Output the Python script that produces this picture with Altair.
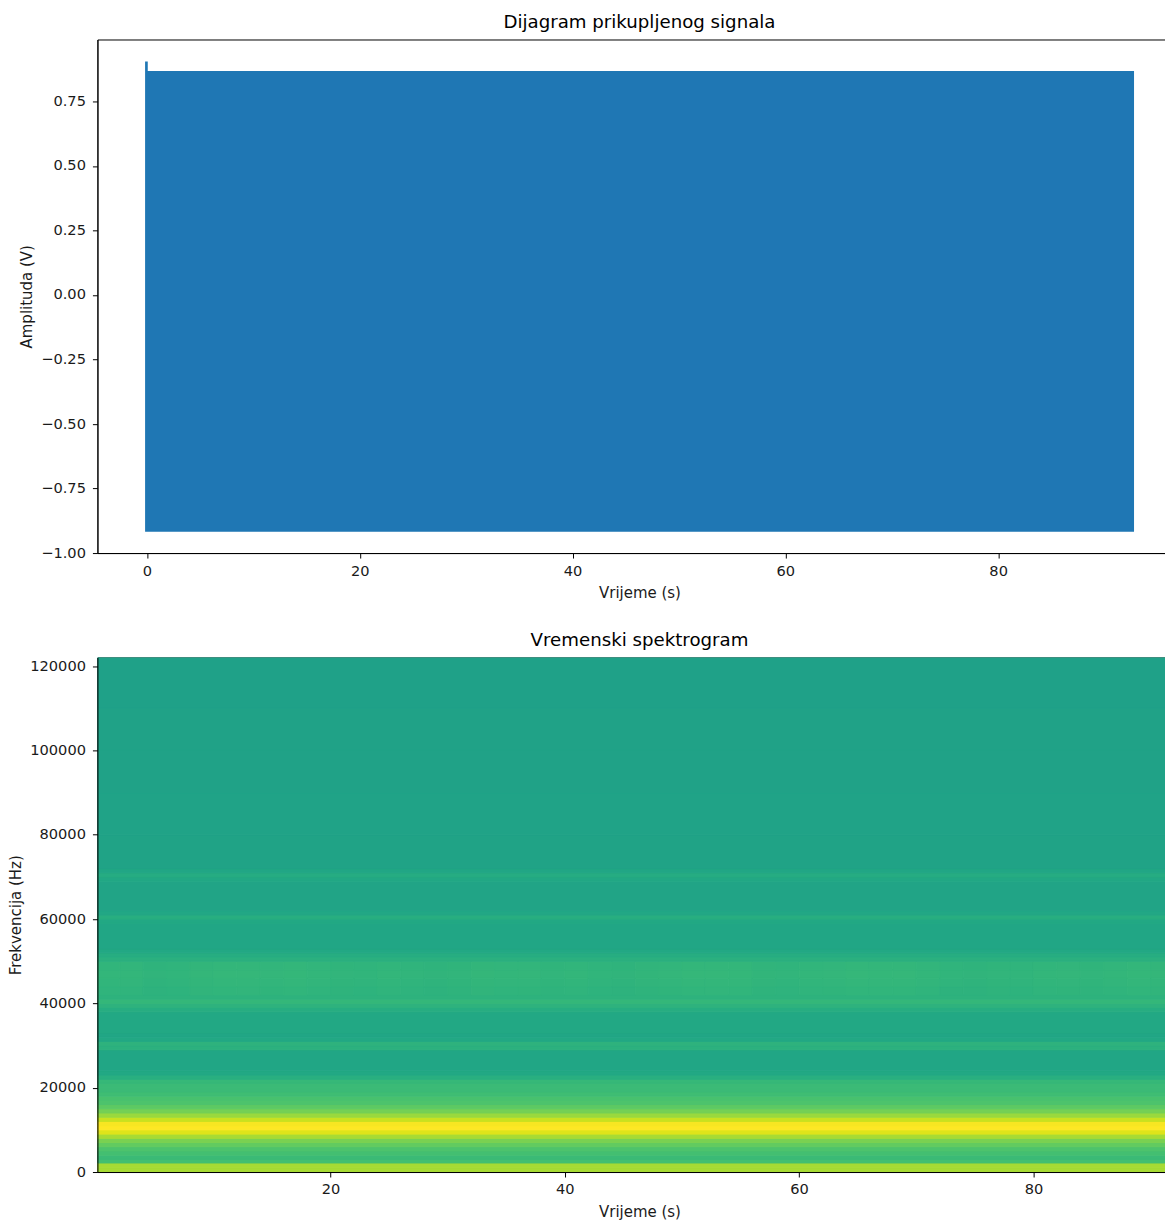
import altair as alt
import pandas as pd

# Signal envelope (s, V)
sig_t = [-0.17, 0.08, 0.08, 92.77]
sig_hi = [0.905, 0.905, 0.868, 0.868]
sig_lo = [-0.917, -0.917, -0.917, -0.917]

# Spectrogram rows: lower edge (Hz) and colour level per row
row_edges = [0, 1000, 2150, 3000, 4000, 5000, 6000, 7000, 8000, 9000, 10000, 11000, 12000, 13000, 14000, 15000,
             16000, 17000, 18000, 19000, 20000, 21000, 22000, 23000, 24000, 26000, 29000, 30000, 31000, 32000,
             33000, 38000, 39000, 40000, 41000, 42000, 44000, 46000, 48000, 50000, 51000, 52000, 53000, 59000,
             60000, 61000, 62000, 69000, 70000, 71000, 72000, 80000, 90000, 100000, 110000, 122070]
row_level = [.87, .87, .70, .68, .70, .72, .76, .80, .87, .95, 1.0, .99, .92, .85, .79, .75,
             .72, .71, .69, .68, .68, .67, .63, .60, .59, .59, .64, .645, .60, .59,
             .60, .62, .645, .665, .645, .65, .655, .66, .655, .635, .62, .60, .59, .60,
             .625, .595, .585, .60, .615, .59, .58, .578, .575, .575, .57]
row_band = [0]*35 + [1, 1, 1, 1] + [0]*16

# Time slices (s) and the faint brightness drift read along the 45 kHz band
time_edges = [0.1] + list(range(2, 92, 2)) + [92.64]
time_drift = [.000, .002, -.006, -.004, .004, .006, .007, .003, .005, .002, -.002, -.004, .001, -.003, -.006, -.002,
              .004, .002, .003, -.002, .001, -.004, -.006, -.001, .003, .006, .007, .005, -.001, -.003, .001, .003,
              .006, .005, .006, .002, -.005, -.006, -.002, -.004, .001, .003, -.002, .002, .005, .004]

y_ticks_top = [-1.0, -0.75, -0.5, -0.25, 0.0, 0.25, 0.5, 0.75]
x_ticks_top = [0, 20, 40, 60, 80]
x_ticks_bot = [20, 40, 60, 80]
y_ticks_bot = [0, 20000, 40000, 60000, 80000, 100000, 120000]

FONT = "DejaVu Sans"
axis_style = dict(grid=False, domainColor="black", tickColor="black", labelColor="#1a1a1a", titleColor="#1a1a1a",
                  labelFont=FONT, titleFont=FONT, labelFontSize=14.6, titleFontSize=15, titleFontWeight="normal",
                  tickSize=5, zindex=1)

signal = pd.DataFrame({"t": sig_t, "hi": sig_hi, "lo": sig_lo})
top = alt.Chart(signal, title=alt.Title("Dijagram prikupljenog signala", font=FONT, fontSize=18.2, fontWeight="normal",
                                        color="black", offset=7)).mark_area(color="#1f77b4", opacity=1).encode(
    x=alt.X("t:Q", scale=alt.Scale(domain=[-4.65, 97.23], nice=False, zero=False),
            axis=alt.Axis(values=x_ticks_top, title="Vrijeme (s)", titlePadding=7.6, labelPadding=5, **axis_style)),
    y=alt.Y("hi:Q", scale=alt.Scale(domain=[-1.0, 0.99], nice=False, zero=False),
            axis=alt.Axis(values=y_ticks_top, title="Amplituda (V)", titlePadding=6.5, labelPadding=7,
                          labelExpr="replace(format(datum.value,'.2f'),'-','\u2212')", **axis_style)),
    y2="lo:Q",
).properties(width=1085, height=514)

cells = []
for r in range(len(row_level)):
    if row_band[r]:
        for c in range(len(time_drift)):
            cells.append({"t0": time_edges[c], "t1": time_edges[c + 1], "f0": row_edges[r], "f1": row_edges[r + 1],
                          "v": row_level[r] + time_drift[c]})
    else:
        cells.append({"t0": time_edges[0], "t1": time_edges[-1], "f0": row_edges[r], "f1": row_edges[r + 1],
                      "v": row_level[r]})
spec_df = pd.DataFrame(cells)
col_scale = alt.Scale(scheme="viridis", domain=[0, 1])
bottom = alt.Chart(spec_df, title=alt.Title("Vremenski spektrogram", font=FONT, fontSize=18.2, fontWeight="normal",
                                            color="black", offset=7)).mark_rect(strokeWidth=1, clip=True).encode(
    x=alt.X("t0:Q", scale=alt.Scale(domain=[0.1, 92.64], nice=False, zero=False),
            axis=alt.Axis(values=x_ticks_bot, title="Vrijeme (s)", titlePadding=7.6, labelPadding=5, **axis_style)),
    x2="t1:Q",
    y=alt.Y("f0:Q", scale=alt.Scale(domain=[0, 122070], nice=False, zero=False),
            axis=alt.Axis(values=y_ticks_bot, title="Frekvencija (Hz)", titlePadding=6.5, labelPadding=7, format="d", **axis_style)),
    y2="f1:Q",
    color=alt.Color("v:Q", scale=col_scale, legend=None),
    stroke=alt.Stroke("v:Q", scale=col_scale, legend=None),
).properties(width=1085, height=515)

chart = alt.vconcat(top, bottom, spacing=29.5).configure_view(stroke="black", strokeWidth=1).properties(
    background="white", padding={"left": -0.5, "top": 4, "right": -17.5, "bottom": 0})
chart.save("out.html", embed_options={"renderer": "svg", "actions": False})
